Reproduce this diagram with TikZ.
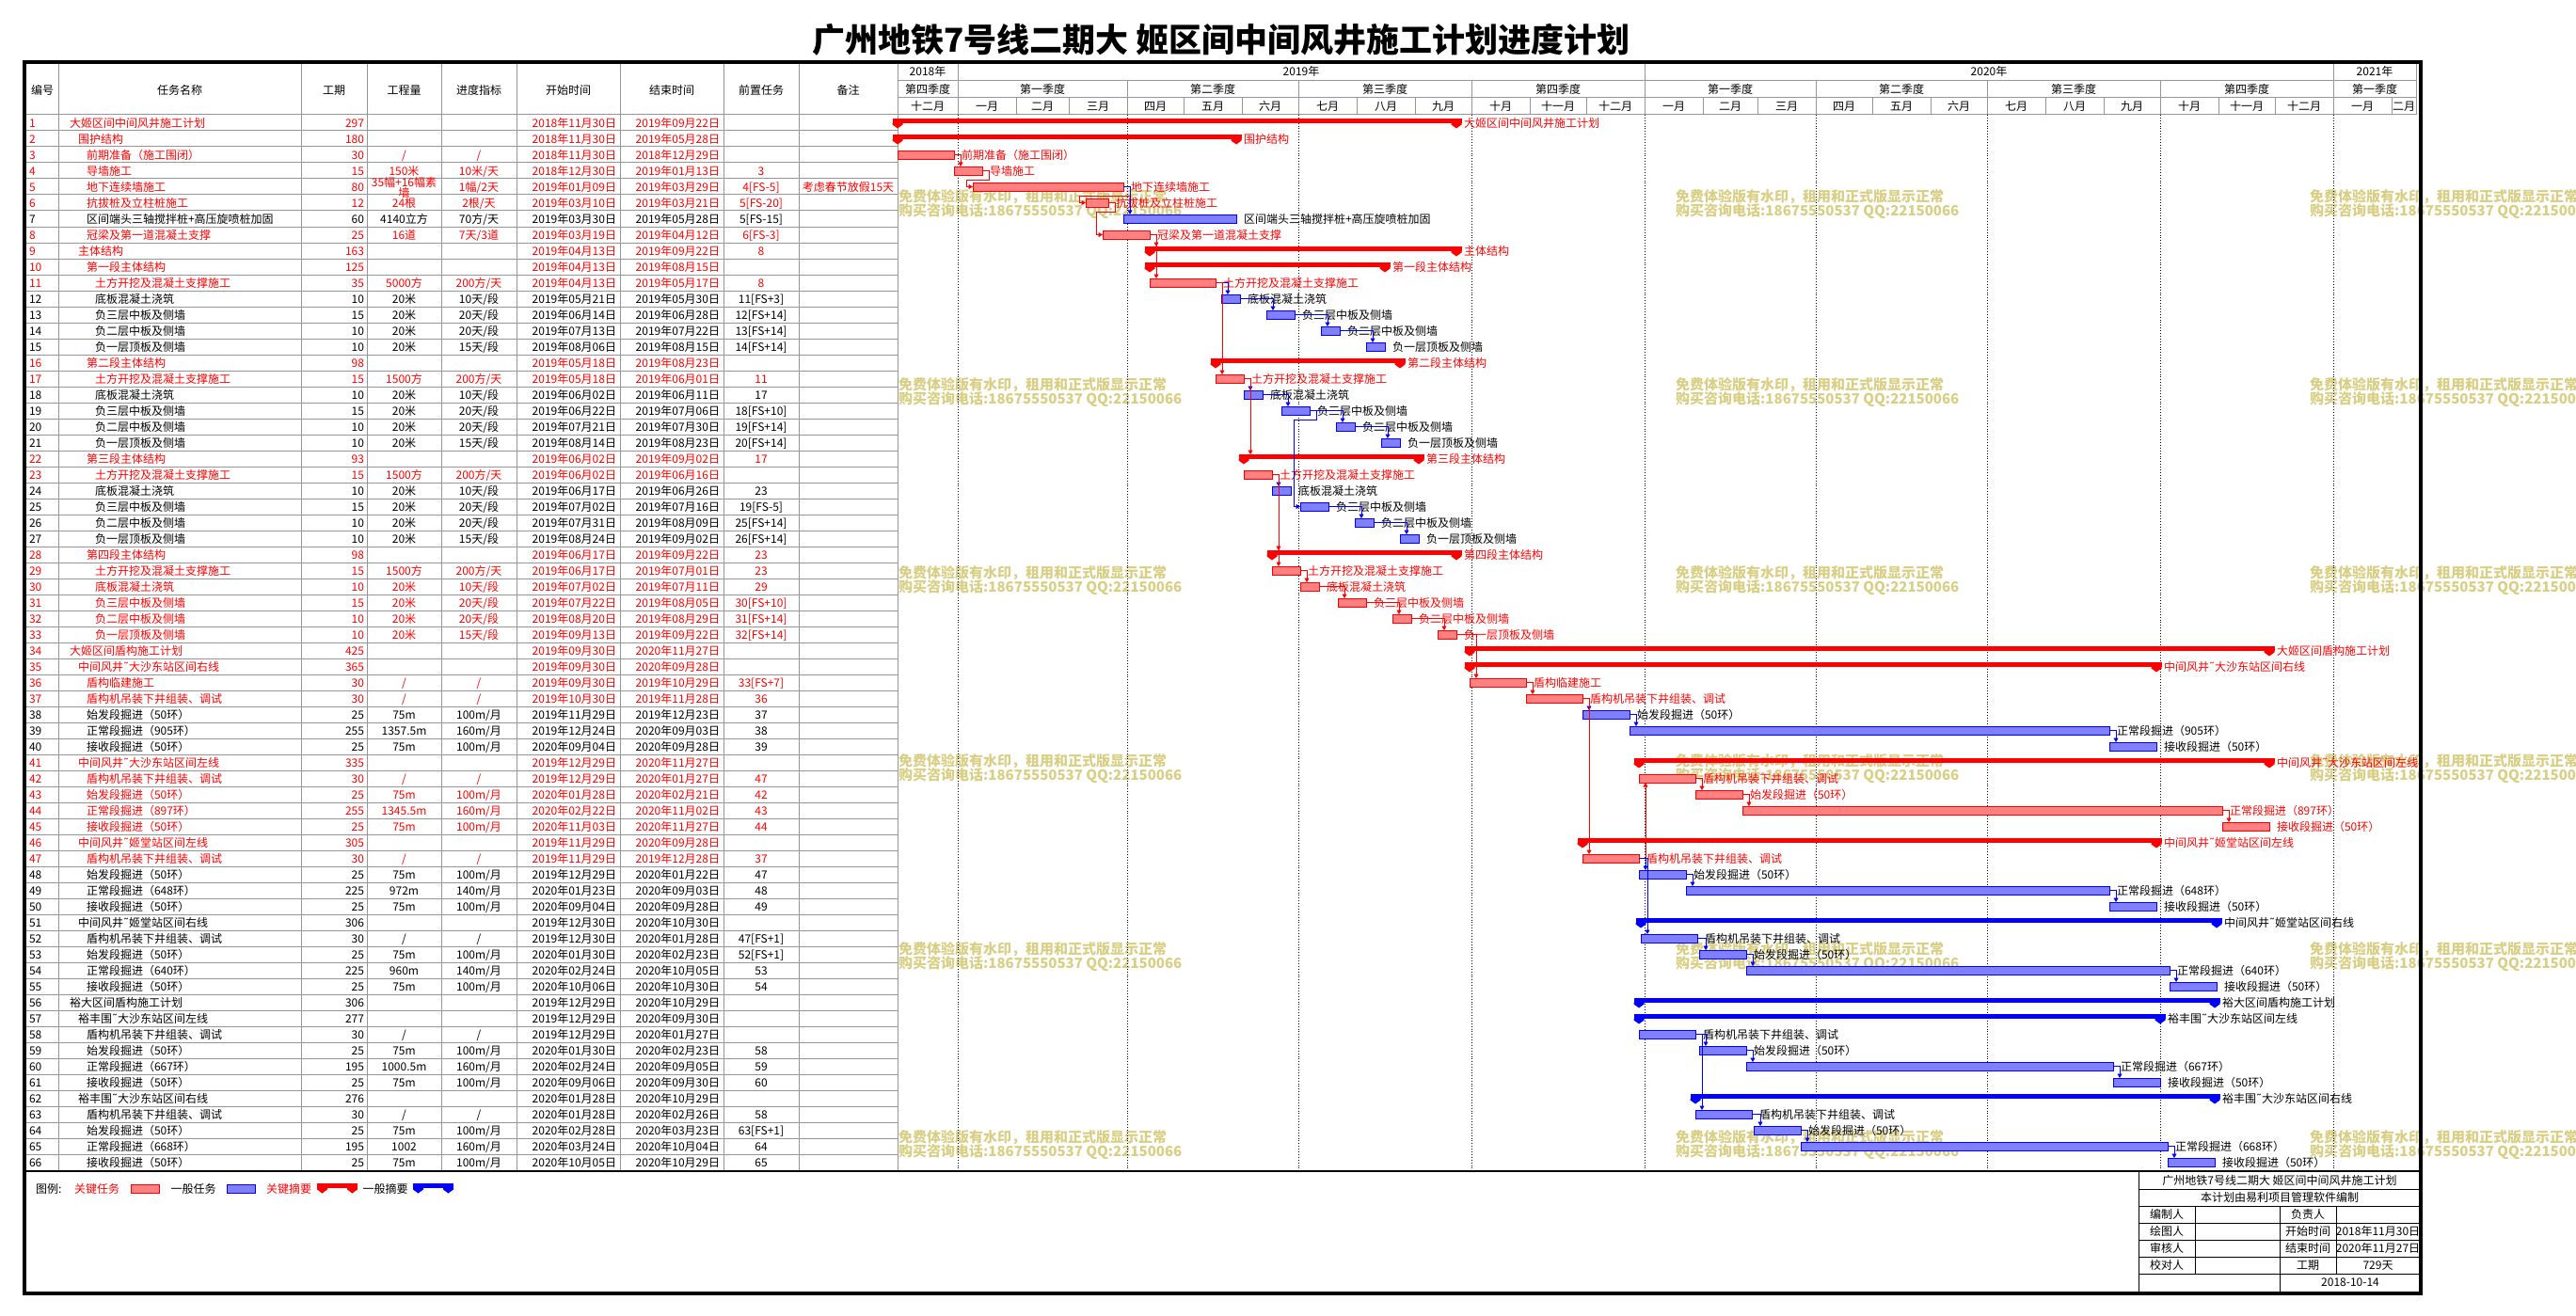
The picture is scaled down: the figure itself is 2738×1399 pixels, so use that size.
\documentclass[tikz,border=0pt]{standalone}
\usepackage{fontspec}
\setmainfont{Noto Sans CJK SC}
\newfontfamily\dejavu{DejaVu Sans}
\usetikzlibrary{arrows.meta}
\definecolor{gl}{RGB}{150,150,150}
\definecolor{wm}{RGB}{216,206,132}
\definecolor{cr}{RGB}{255,0,0}
\definecolor{cb}{RGB}{0,0,255}
\newcommand\cellfont{\fontsize{12}{13}\selectfont}
\newcommand\tld{{\dejavu ˜}}
\def\rc{black}
\newcommand\rowred{\def\rc{cr}}
\newcommand\rowblack{\def\rc{black}}
\tikzset{
 cell/.style={inner sep=0pt, outer sep=0pt, text height=10.6pt, text depth=1.4pt, font=\cellfont},
 gline/.style={draw=gl, line width=1pt},
 tbar/.style={draw=#1, fill=#1!50, line width=0.8pt, inner sep=0pt, outer sep=0pt, minimum height=9pt},
 sbar/.style={fill=#1, inner sep=0pt, outer sep=0pt, minimum height=5pt},
 lbl/.style={cell, anchor=west},
 link/.style={line width=0.8pt, -{Triangle[width=5pt,length=4.5pt]}},
 wmk/.style={inner sep=0pt, anchor=west, text=wm, font=\fontsize{15}{16}\bfseries\selectfont},
}
% table row
\newcommand\trow[9]{%
 \node[cell,anchor=west,text=\rc] (no#1) at (31,{113.5+17*#1}) {#1};
 \node[cell,anchor=west,text=\rc] (nm#1) at ({65+9*#2},{113.5+17*#1}) {#3};
 \node[cell,anchor=east,text=\rc] (du#1) at (387,{113.5+17*#1}) {#4};
 \node[cell,text=\rc] (qt#1) at (429.5,{113.5+17*#1}) {#5};
 \node[cell,text=\rc] (rt#1) at (509,{113.5+17*#1}) {#6};
 \node[cell,anchor=east,text=\rc] (st#1) at (655,{113.5+17*#1}) {#7};
 \node[cell,anchor=east,text=\rc] (en#1) at (765,{113.5+17*#1}) {#8};
 \node[cell,text=\rc] (pr#1) at (809,{113.5+17*#1}) {#9};
}
\newcommand\capshape[2]{\fill[#2] ([shift={(-5.5,0.4)}]#1) -- ++(11,0) -- ++(0,1.6) -- ++(-5.5,4) -- ++(-5.5,-4) -- cycle;}
% task bar
\newcommand\tk[6]{%
 \coordinate (s#1) at (#2,{113.5+17*#1});
 \coordinate (e#1) at (#3,{113.5+17*#1});
 \node[tbar=#4, minimum width={#3-#2}, anchor=west] (b#1) at (s#1) {};
 \node[lbl, text=#5] (l#1) at ([shift={(8,0.5)}]e#1) {#6};
}
% summary bar
\newcommand\sm[6]{%
 \coordinate (s#1) at (#2,{113.5+17*#1});
 \coordinate (e#1) at (#3,{113.5+17*#1});
 \node[sbar=#4, minimum width={#3-#2+11}, anchor=north west] (b#1) at ([shift={(-5.5,-4.5)}]s#1) {};
 \capshape{s#1}{#4}\capshape{e#1}{#4}
 \node[lbl, text=#5] (l#1) at ([shift={(8,0.5)}]e#1) {#6};
}
\newcommand\lk[3]{\draw[link,#3] (e#1) -| ([shift={(7,-4.5)}]s#2);}
\newcommand\lku[3]{\draw[link,#3] (e#1) -| ([shift={(7,4.5)}]s#2);}
\newcommand\lkr[3]{\draw[link,#3] (e#1) -- ++(7,0) -- ++(0,9.5) -| ([xshift=-7]s#2) -- (s#2);}
\begin{document}
\begin{tikzpicture}[x=1pt,y=-1pt]
\useasboundingbox (0,0) rectangle (2738,1399);
% watermark
\foreach \wx in {955,1781,2455}{
 \foreach \wy [count=\j] in {209,409,609,809,1009,1209}{
  \node[wmk] (wa-\wx-\j) at (\wx,\wy) {免费体验版有水印，租用和正式版显示正常};
  \node[wmk] (wb-\wx-\j) at (\wx,\wy+16) {购买咨询电话:18675550537 QQ:22150066};
 }}
% title
\node[inner sep=0pt, font=\fontsize{35}{40}\bfseries\selectfont] (title) at (1298,42) {广州地铁7号线二期大 姬区间中间风井施工计划进度计划};
% table grid
\foreach \k in {1,...,65} \draw[gline] (28,{122+17*\k}) -- (954,{122+17*\k});
\foreach \cx in {62,320,390,469,549,659,769,849,954} \draw[gline] (\cx,66) -- (\cx,1245);
\draw[gline] (28,122) -- (2568,122);
\draw[gline] (954,86) -- (2568,86);
\draw[gline] (954,104) -- (2568,104);
\draw[gline] (2568,66) -- (2568,122);
\foreach \cx in {1018,1748,2480} \draw[gline] (\cx,66) -- (\cx,86);
\foreach \cx in {1018,1198,1380,1564,1748,1930,2112,2296,2480} \draw[gline] (\cx,86) -- (\cx,104);
\foreach \cx in {1018,1198,1380,1564,1748,1930,2112,2296,2480} \draw[dotted, line width=0.9pt] (\cx,122) -- (\cx,1245);
% table header
\node[cell] (h1) at (45,96) {编号};
\node[cell] (h2) at (191,96) {任务名称};
\node[cell] (h3) at (355,96) {工期};
\node[cell] (h4) at (429.5,96) {工程量};
\node[cell] (h5) at (509,96) {进度指标};
\node[cell] (h6) at (604,96) {开始时间};
\node[cell] (h7) at (714,96) {结束时间};
\node[cell] (h8) at (809,96) {前置任务};
\node[cell] (h9) at (901.5,96) {备注};
% gantt header
\node[cell] (y1) at (986,76) {2018年};
\node[cell] (y2) at (1383,76) {2019年};
\node[cell] (y3) at (2114,76) {2020年};
\node[cell] (y4) at (2524,76) {2021年};
\foreach \qa/\qb/\qn [count=\i] in {954/1018/第四季度,1018/1198/第一季度,1198/1380/第二季度,1380/1564/第三季度,1564/1748/第四季度,1748/1930/第一季度,1930/2112/第二季度,2112/2296/第三季度,2296/2480/第四季度,2480/2568/第一季度}
 \node[cell] (q\i) at ({(\qa+\qb)/2},95) {\qn};
\foreach \ma/\mb/\mn [count=\i] in {954/1018/十二月,1018/1080/一月,1080/1136/二月,1136/1198/三月,1198/1258/四月,1258/1320/五月,1320/1380/六月,1380/1442/七月,1442/1504/八月,1504/1564/九月,1564/1626/十月,1626/1686/十一月,1686/1748/十二月,1748/1810/一月,1810/1868/二月,1868/1930/三月,1930/1990/四月,1990/2052/五月,2052/2112/六月,2112/2174/七月,2174/2236/八月,2236/2296/九月,2296/2358/十月,2358/2418/十一月,2418/2480/十二月,2480/2542/一月,2542/2568/二月}{
 \draw[gline] (\mb,104) -- (\mb,122);
 \node[cell] (m\i) at ({(\ma+\mb)/2},113) {\mn};}
% table rows
\rowred
\trow{1}{1}{大姬区间中间风井施工计划}{297}{}{}{2018年11月30日}{2019年09月22日}{}
\trow{2}{2}{围护结构}{180}{}{}{2018年11月30日}{2019年05月28日}{}
\trow{3}{3}{前期准备（施工围闭）}{30}{/}{/}{2018年11月30日}{2018年12月29日}{}
\trow{4}{3}{导墙施工}{15}{150米}{10米/天}{2018年12月30日}{2019年01月13日}{3}
\trow{5}{3}{地下连续墙施工}{80}{}{1幅/2天}{2019年01月09日}{2019年03月29日}{4[FS-5]}
\node[cell,text=cr] (qt5a) at (429.5,193.5) {35幅+16幅素};
\node[cell,text=cr] (qt5b) at (429.5,205) {墙};
\node[cell,text=cr] (nt5) at (901.5,198.5) {考虑春节放假15天};
\trow{6}{3}{抗拔桩及立柱桩施工}{12}{24根}{2根/天}{2019年03月10日}{2019年03月21日}{5[FS-20]}
\rowblack
\trow{7}{3}{区间端头三轴搅拌桩+高压旋喷桩加固}{60}{4140立方}{70方/天}{2019年03月30日}{2019年05月28日}{5[FS-15]}
\rowred
\trow{8}{3}{冠梁及第一道混凝土支撑}{25}{16道}{7天/3道}{2019年03月19日}{2019年04月12日}{6[FS-3]}
\trow{9}{2}{主体结构}{163}{}{}{2019年04月13日}{2019年09月22日}{8}
\trow{10}{3}{第一段主体结构}{125}{}{}{2019年04月13日}{2019年08月15日}{}
\trow{11}{4}{土方开挖及混凝土支撑施工}{35}{5000方}{200方/天}{2019年04月13日}{2019年05月17日}{8}
\rowblack
\trow{12}{4}{底板混凝土浇筑}{10}{20米}{10天/段}{2019年05月21日}{2019年05月30日}{11[FS+3]}
\trow{13}{4}{负三层中板及侧墙}{15}{20米}{20天/段}{2019年06月14日}{2019年06月28日}{12[FS+14]}
\trow{14}{4}{负二层中板及侧墙}{10}{20米}{20天/段}{2019年07月13日}{2019年07月22日}{13[FS+14]}
\trow{15}{4}{负一层顶板及侧墙}{10}{20米}{15天/段}{2019年08月06日}{2019年08月15日}{14[FS+14]}
\rowred
\trow{16}{3}{第二段主体结构}{98}{}{}{2019年05月18日}{2019年08月23日}{}
\trow{17}{4}{土方开挖及混凝土支撑施工}{15}{1500方}{200方/天}{2019年05月18日}{2019年06月01日}{11}
\rowblack
\trow{18}{4}{底板混凝土浇筑}{10}{20米}{10天/段}{2019年06月02日}{2019年06月11日}{17}
\trow{19}{4}{负三层中板及侧墙}{15}{20米}{20天/段}{2019年06月22日}{2019年07月06日}{18[FS+10]}
\trow{20}{4}{负二层中板及侧墙}{10}{20米}{20天/段}{2019年07月21日}{2019年07月30日}{19[FS+14]}
\trow{21}{4}{负一层顶板及侧墙}{10}{20米}{15天/段}{2019年08月14日}{2019年08月23日}{20[FS+14]}
\rowred
\trow{22}{3}{第三段主体结构}{93}{}{}{2019年06月02日}{2019年09月02日}{17}
\trow{23}{4}{土方开挖及混凝土支撑施工}{15}{1500方}{200方/天}{2019年06月02日}{2019年06月16日}{}
\rowblack
\trow{24}{4}{底板混凝土浇筑}{10}{20米}{10天/段}{2019年06月17日}{2019年06月26日}{23}
\trow{25}{4}{负三层中板及侧墙}{15}{20米}{20天/段}{2019年07月02日}{2019年07月16日}{19[FS-5]}
\trow{26}{4}{负二层中板及侧墙}{10}{20米}{20天/段}{2019年07月31日}{2019年08月09日}{25[FS+14]}
\trow{27}{4}{负一层顶板及侧墙}{10}{20米}{15天/段}{2019年08月24日}{2019年09月02日}{26[FS+14]}
\rowred
\trow{28}{3}{第四段主体结构}{98}{}{}{2019年06月17日}{2019年09月22日}{23}
\trow{29}{4}{土方开挖及混凝土支撑施工}{15}{1500方}{200方/天}{2019年06月17日}{2019年07月01日}{23}
\trow{30}{4}{底板混凝土浇筑}{10}{20米}{10天/段}{2019年07月02日}{2019年07月11日}{29}
\trow{31}{4}{负三层中板及侧墙}{15}{20米}{20天/段}{2019年07月22日}{2019年08月05日}{30[FS+10]}
\trow{32}{4}{负二层中板及侧墙}{10}{20米}{20天/段}{2019年08月20日}{2019年08月29日}{31[FS+14]}
\trow{33}{4}{负一层顶板及侧墙}{10}{20米}{15天/段}{2019年09月13日}{2019年09月22日}{32[FS+14]}
\trow{34}{1}{大姬区间盾构施工计划}{425}{}{}{2019年09月30日}{2020年11月27日}{}
\trow{35}{2}{中间风井\tld{}大沙东站区间右线}{365}{}{}{2019年09月30日}{2020年09月28日}{}
\trow{36}{3}{盾构临建施工}{30}{/}{/}{2019年09月30日}{2019年10月29日}{33[FS+7]}
\trow{37}{3}{盾构机吊装下井组装、调试}{30}{/}{/}{2019年10月30日}{2019年11月28日}{36}
\rowblack
\trow{38}{3}{始发段掘进（50环）}{25}{75m}{100m/月}{2019年11月29日}{2019年12月23日}{37}
\trow{39}{3}{正常段掘进（905环）}{255}{1357.5m}{160m/月}{2019年12月24日}{2020年09月03日}{38}
\trow{40}{3}{接收段掘进（50环）}{25}{75m}{100m/月}{2020年09月04日}{2020年09月28日}{39}
\rowred
\trow{41}{2}{中间风井\tld{}大沙东站区间左线}{335}{}{}{2019年12月29日}{2020年11月27日}{}
\trow{42}{3}{盾构机吊装下井组装、调试}{30}{/}{/}{2019年12月29日}{2020年01月27日}{47}
\trow{43}{3}{始发段掘进（50环）}{25}{75m}{100m/月}{2020年01月28日}{2020年02月21日}{42}
\trow{44}{3}{正常段掘进（897环）}{255}{1345.5m}{160m/月}{2020年02月22日}{2020年11月02日}{43}
\trow{45}{3}{接收段掘进（50环）}{25}{75m}{100m/月}{2020年11月03日}{2020年11月27日}{44}
\trow{46}{2}{中间风井\tld{}姬堂站区间左线}{305}{}{}{2019年11月29日}{2020年09月28日}{}
\trow{47}{3}{盾构机吊装下井组装、调试}{30}{/}{/}{2019年11月29日}{2019年12月28日}{37}
\rowblack
\trow{48}{3}{始发段掘进（50环）}{25}{75m}{100m/月}{2019年12月29日}{2020年01月22日}{47}
\trow{49}{3}{正常段掘进（648环）}{225}{972m}{140m/月}{2020年01月23日}{2020年09月03日}{48}
\trow{50}{3}{接收段掘进（50环）}{25}{75m}{100m/月}{2020年09月04日}{2020年09月28日}{49}
\trow{51}{2}{中间风井\tld{}姬堂站区间右线}{306}{}{}{2019年12月30日}{2020年10月30日}{}
\trow{52}{3}{盾构机吊装下井组装、调试}{30}{/}{/}{2019年12月30日}{2020年01月28日}{47[FS+1]}
\trow{53}{3}{始发段掘进（50环）}{25}{75m}{100m/月}{2020年01月30日}{2020年02月23日}{52[FS+1]}
\trow{54}{3}{正常段掘进（640环）}{225}{960m}{140m/月}{2020年02月24日}{2020年10月05日}{53}
\trow{55}{3}{接收段掘进（50环）}{25}{75m}{100m/月}{2020年10月06日}{2020年10月30日}{54}
\trow{56}{1}{裕大区间盾构施工计划}{306}{}{}{2019年12月29日}{2020年10月29日}{}
\trow{57}{2}{裕丰围\tld{}大沙东站区间左线}{277}{}{}{2019年12月29日}{2020年09月30日}{}
\trow{58}{3}{盾构机吊装下井组装、调试}{30}{/}{/}{2019年12月29日}{2020年01月27日}{}
\trow{59}{3}{始发段掘进（50环）}{25}{75m}{100m/月}{2020年01月30日}{2020年02月23日}{58}
\trow{60}{3}{正常段掘进（667环）}{195}{1000.5m}{160m/月}{2020年02月24日}{2020年09月05日}{59}
\trow{61}{3}{接收段掘进（50环）}{25}{75m}{100m/月}{2020年09月06日}{2020年09月30日}{60}
\trow{62}{2}{裕丰围\tld{}大沙东站区间右线}{276}{}{}{2020年01月28日}{2020年10月29日}{}
\trow{63}{3}{盾构机吊装下井组装、调试}{30}{/}{/}{2020年01月28日}{2020年02月26日}{58}
\trow{64}{3}{始发段掘进（50环）}{25}{75m}{100m/月}{2020年02月28日}{2020年03月23日}{63[FS+1]}
\trow{65}{3}{正常段掘进（668环）}{195}{1002}{160m/月}{2020年03月24日}{2020年10月04日}{64}
\trow{66}{3}{接收段掘进（50环）}{25}{75m}{100m/月}{2020年10月05日}{2020年10月29日}{65}
% summaries
\sm{1}{954}{1548}{cr}{cr}{大姬区间中间风井施工计划}
\sm{2}{954}{1314}{cr}{cr}{围护结构}
\sm{9}{1222}{1548}{cr}{cr}{主体结构}
\sm{10}{1222}{1472}{cr}{cr}{第一段主体结构}
\sm{16}{1292}{1488}{cr}{cr}{第二段主体结构}
\sm{22}{1322}{1508}{cr}{cr}{第三段主体结构}
\sm{28}{1352}{1548}{cr}{cr}{第四段主体结构}
\sm{34}{1562}{2412}{cr}{cr}{大姬区间盾构施工计划}
\sm{35}{1562}{2292}{cr}{cr}{中间风井\tld{}大沙东站区间右线}
\sm{41}{1742}{2412}{cr}{cr}{中间风井\tld{}大沙东站区间左线}
\sm{46}{1682}{2292}{cr}{cr}{中间风井\tld{}姬堂站区间左线}
\sm{51}{1744}{2356}{cb}{black}{中间风井\tld{}姬堂站区间右线}
\sm{56}{1742}{2354}{cb}{black}{裕大区间盾构施工计划}
\sm{57}{1742}{2296}{cb}{black}{裕丰围\tld{}大沙东站区间左线}
\sm{62}{1802}{2354}{cb}{black}{裕丰围\tld{}大沙东站区间右线}
% tasks
\tk{3}{954}{1014}{cr}{cr}{前期准备（施工围闭）}
\tk{4}{1014}{1044}{cr}{cr}{导墙施工}
\tk{5}{1034}{1194}{cr}{cr}{地下连续墙施工}
\tk{6}{1154}{1178}{cr}{cr}{抗拔桩及立柱桩施工}
\tk{7}{1194}{1314}{cb}{black}{区间端头三轴搅拌桩+高压旋喷桩加固}
\tk{8}{1172}{1222}{cr}{cr}{冠梁及第一道混凝土支撑}
\tk{11}{1222}{1292}{cr}{cr}{土方开挖及混凝土支撑施工}
\tk{12}{1298}{1318}{cb}{black}{底板混凝土浇筑}
\tk{13}{1346}{1376}{cb}{black}{负三层中板及侧墙}
\tk{14}{1404}{1424}{cb}{black}{负二层中板及侧墙}
\tk{15}{1452}{1472}{cb}{black}{负一层顶板及侧墙}
\tk{17}{1292}{1322}{cr}{cr}{土方开挖及混凝土支撑施工}
\tk{18}{1322}{1342}{cb}{black}{底板混凝土浇筑}
\tk{19}{1362}{1392}{cb}{black}{负三层中板及侧墙}
\tk{20}{1420}{1440}{cb}{black}{负二层中板及侧墙}
\tk{21}{1468}{1488}{cb}{black}{负一层顶板及侧墙}
\tk{23}{1322}{1352}{cr}{cr}{土方开挖及混凝土支撑施工}
\tk{24}{1352}{1372}{cb}{black}{底板混凝土浇筑}
\tk{25}{1382}{1412}{cb}{black}{负三层中板及侧墙}
\tk{26}{1440}{1460}{cb}{black}{负二层中板及侧墙}
\tk{27}{1488}{1508}{cb}{black}{负一层顶板及侧墙}
\tk{29}{1352}{1382}{cr}{cr}{土方开挖及混凝土支撑施工}
\tk{30}{1382}{1402}{cr}{cr}{底板混凝土浇筑}
\tk{31}{1422}{1452}{cr}{cr}{负三层中板及侧墙}
\tk{32}{1480}{1500}{cr}{cr}{负二层中板及侧墙}
\tk{33}{1528}{1548}{cr}{cr}{负一层顶板及侧墙}
\tk{36}{1562}{1622}{cr}{cr}{盾构临建施工}
\tk{37}{1622}{1682}{cr}{cr}{盾构机吊装下井组装、调试}
\tk{38}{1682}{1732}{cb}{black}{始发段掘进（50环）}
\tk{39}{1732}{2242}{cb}{black}{正常段掘进（905环）}
\tk{40}{2242}{2292}{cb}{black}{接收段掘进（50环）}
\tk{42}{1742}{1802}{cr}{cr}{盾构机吊装下井组装、调试}
\tk{43}{1802}{1852}{cr}{cr}{始发段掘进（50环）}
\tk{44}{1852}{2362}{cr}{cr}{正常段掘进（897环）}
\tk{45}{2362}{2412}{cr}{cr}{接收段掘进（50环）}
\tk{47}{1682}{1742}{cr}{cr}{盾构机吊装下井组装、调试}
\tk{48}{1742}{1792}{cb}{black}{始发段掘进（50环）}
\tk{49}{1792}{2242}{cb}{black}{正常段掘进（648环）}
\tk{50}{2242}{2292}{cb}{black}{接收段掘进（50环）}
\tk{52}{1744}{1804}{cb}{black}{盾构机吊装下井组装、调试}
\tk{53}{1806}{1856}{cb}{black}{始发段掘进（50环）}
\tk{54}{1856}{2306}{cb}{black}{正常段掘进（640环）}
\tk{55}{2306}{2356}{cb}{black}{接收段掘进（50环）}
\tk{58}{1742}{1802}{cb}{black}{盾构机吊装下井组装、调试}
\tk{59}{1806}{1856}{cb}{black}{始发段掘进（50环）}
\tk{60}{1856}{2246}{cb}{black}{正常段掘进（667环）}
\tk{61}{2246}{2296}{cb}{black}{接收段掘进（50环）}
\tk{63}{1802}{1862}{cb}{black}{盾构机吊装下井组装、调试}
\tk{64}{1864}{1914}{cb}{black}{始发段掘进（50环）}
\tk{65}{1914}{2304}{cb}{black}{正常段掘进（668环）}
\tk{66}{2304}{2354}{cb}{black}{接收段掘进（50环）}
% links
\lk{3}{4}{cr}
\lkr{4}{5}{cr}
\lkr{5}{6}{cr}
\lk{5}{7}{cb}
\lkr{6}{8}{cr}
\lk{8}{9}{cr}
\lk{8}{11}{cr}
\lk{11}{12}{cb}
\lk{12}{13}{cb}
\lk{13}{14}{cb}
\lk{14}{15}{cb}
\lk{11}{17}{cr}
\lk{17}{18}{cb}
\lk{18}{19}{cb}
\lk{19}{20}{cb}
\lk{20}{21}{cb}
\lk{17}{22}{cr}
\lk{23}{24}{cb}
\lkr{19}{25}{cb}
\lk{25}{26}{cb}
\lk{26}{27}{cb}
\lk{23}{28}{cr}
\lk{23}{29}{cr}
\lk{29}{30}{cr}
\lk{30}{31}{cr}
\lk{31}{32}{cr}
\lk{32}{33}{cr}
\lk{33}{36}{cr}
\lk{36}{37}{cr}
\lk{37}{38}{cb}
\lk{38}{39}{cb}
\lk{39}{40}{cb}
\lku{47}{42}{cr}
\lk{42}{43}{cr}
\lk{43}{44}{cr}
\lk{44}{45}{cr}
\lk{37}{47}{cr}
\lk{47}{48}{cb}
\lk{48}{49}{cb}
\lk{49}{50}{cb}
\lk{47}{52}{cb}
\lk{52}{53}{cb}
\lk{53}{54}{cb}
\lk{54}{55}{cb}
\lk{58}{59}{cb}
\lk{59}{60}{cb}
\lk{60}{61}{cb}
\lk{58}{63}{cb}
\lk{63}{64}{cb}
\lk{64}{65}{cb}
\lk{65}{66}{cb}
% legend
\node[cell,anchor=west] (lg0) at (38,1264) {图例:};
\node[cell,anchor=west,text=cr] (lg1) at (79,1264) {关键任务};
\node[tbar=cr, minimum width=30pt, anchor=west] (lg2) at (139,1264) {};
\node[cell,anchor=west] (lg3) at (181.5,1264) {一般任务};
\node[tbar=cb, minimum width=30pt, anchor=west] (lg4) at (241,1264) {};
\node[cell,anchor=west,text=cr] (lg5) at (283,1264) {关键摘要};
\coordinate (lgs1) at (342.5,1262.5); \coordinate (lge1) at (374.5,1262.5);
\node[sbar=cr, minimum width=43pt, anchor=north west] (lg6) at (337,1258) {};
\capshape{lgs1}{cr}\capshape{lge1}{cr}
\node[cell,anchor=west] (lg7) at (385.5,1264) {一般摘要};
\coordinate (lgs2) at (444.5,1262.5); \coordinate (lge2) at (476.5,1262.5);
\node[sbar=cb, minimum width=43pt, anchor=north west] (lg8) at (439,1258) {};
\capshape{lgs2}{cb}\capshape{lge2}{cb}
% footer box
\draw[line width=1pt] (2273.3,1245) -- (2273.3,1374.5);
\foreach \fy in {1264,1282,1300,1318,1336,1354} \draw[line width=1pt] (2273.3,\fy) -- (2573,\fy);
\draw[line width=1pt] (2333.3,1282) -- (2333.3,1354);
\draw[line width=1pt] (2423.3,1282) -- (2423.3,1374.5);
\draw[line width=1pt] (2483.3,1282) -- (2483.3,1354);
\node[cell] (f1) at (2423,1255) {广州地铁7号线二期大 姬区间中间风井施工计划};
\node[cell] (f2) at (2423,1273) {本计划由易利项目管理软件编制};
\node[cell] (f3) at (2303,1291) {编制人};
\node[cell] (f4) at (2453,1291) {负责人};
\node[cell] (f5) at (2303,1309) {绘图人};
\node[cell] (f6) at (2453,1309) {开始时间};
\node[cell] (f7) at (2527.5,1309) {2018年11月30日};
\node[cell] (f8) at (2303,1327) {审核人};
\node[cell] (f9) at (2453,1327) {结束时间};
\node[cell] (f10) at (2527.5,1327) {2020年11月27日};
\node[cell] (f11) at (2303,1345) {校对人};
\node[cell] (f12) at (2453,1345) {工期};
\node[cell] (f13) at (2527.5,1345) {729天};
\node[cell] (f14) at (2498,1363) {2018-10-14};
% frame
\draw[line width=2pt] (25.5,1245) -- (2573,1245);
\draw[line width=4pt] (25.5,66) rectangle (2573,1374.5);
\end{tikzpicture}
\end{document}
